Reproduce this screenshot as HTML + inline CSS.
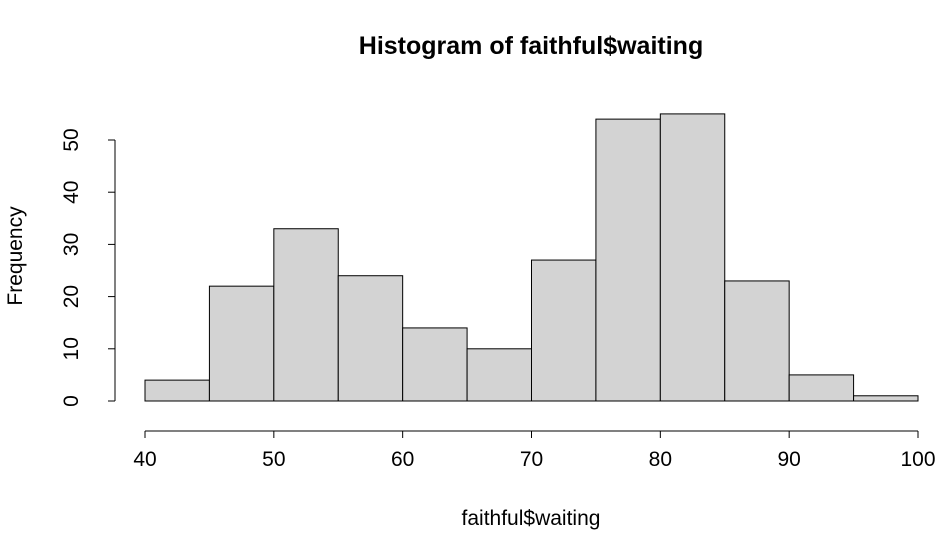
<!DOCTYPE html>
<html><head><meta charset="utf-8"><style>
body{margin:0;background:#fff}
svg{display:block;font-family:"Liberation Sans",Arial,sans-serif}
</style></head><body>
<svg id="chart" width="950" height="543">
<text x="531" y="54" text-anchor="middle" font-size="25" font-weight="bold">Histogram of faithful$waiting</text>
<text x="531" y="525" text-anchor="middle" font-size="21">faithful$waiting</text>
<text transform="translate(22,256) rotate(-90)" text-anchor="middle" font-size="21">Frequency</text>
<g id="bars"></g><g id="xaxis"></g><g id="yaxis"></g>
</svg>
<script>
const breaks=[40,45,50,55,60,65,70,75,80,85,90,95,100];
const counts=[4,22,33,24,14,10,27,54,55,23,5,1];
const xTicks=[40,50,60,70,80,90,100];
const yTicks=[0,10,20,30,40,50];
const ns="http://www.w3.org/2000/svg";
const x=v=>145+(v-40)*(918-145)/60;
const y=v=>401-v*5.22;
function mk(t,a,p){const e=document.createElementNS(ns,t);for(const k in a)e.setAttribute(k,a[k]);p.appendChild(e);return e;}
const bars=document.getElementById('bars');
counts.forEach((c,i)=>{
 const r=mk('rect',{x:x(breaks[i]),y:y(c),width:x(breaks[i+1])-x(breaks[i]),height:y(0)-y(c),fill:'#d3d3d3',stroke:'#000','stroke-width':1},bars);
 
 
});
const xa=document.getElementById('xaxis');
mk('line',{x1:x(xTicks[0]),x2:x(xTicks[xTicks.length-1]),y1:431,y2:431,stroke:'#000'},xa);
xTicks.forEach(t=>{
 mk('line',{x1:x(t),x2:x(t),y1:431,y2:438,stroke:'#000'},xa);
 const e=mk('text',{x:x(t),y:466,'text-anchor':'middle','font-size':21},xa);e.textContent=t;
 
 
});
const ya=document.getElementById('yaxis');
mk('line',{x1:115,x2:115,y1:y(yTicks[0]),y2:y(yTicks[yTicks.length-1]),stroke:'#000'},ya);
yTicks.forEach(t=>{
 mk('line',{x1:108,x2:115,y1:y(t),y2:y(t),stroke:'#000'},ya);
 const e=mk('text',{transform:`translate(78,${y(t)}) rotate(-90)`,'text-anchor':'middle','font-size':21},ya);e.textContent=t;
 
 
});
</script>
</body></html>
